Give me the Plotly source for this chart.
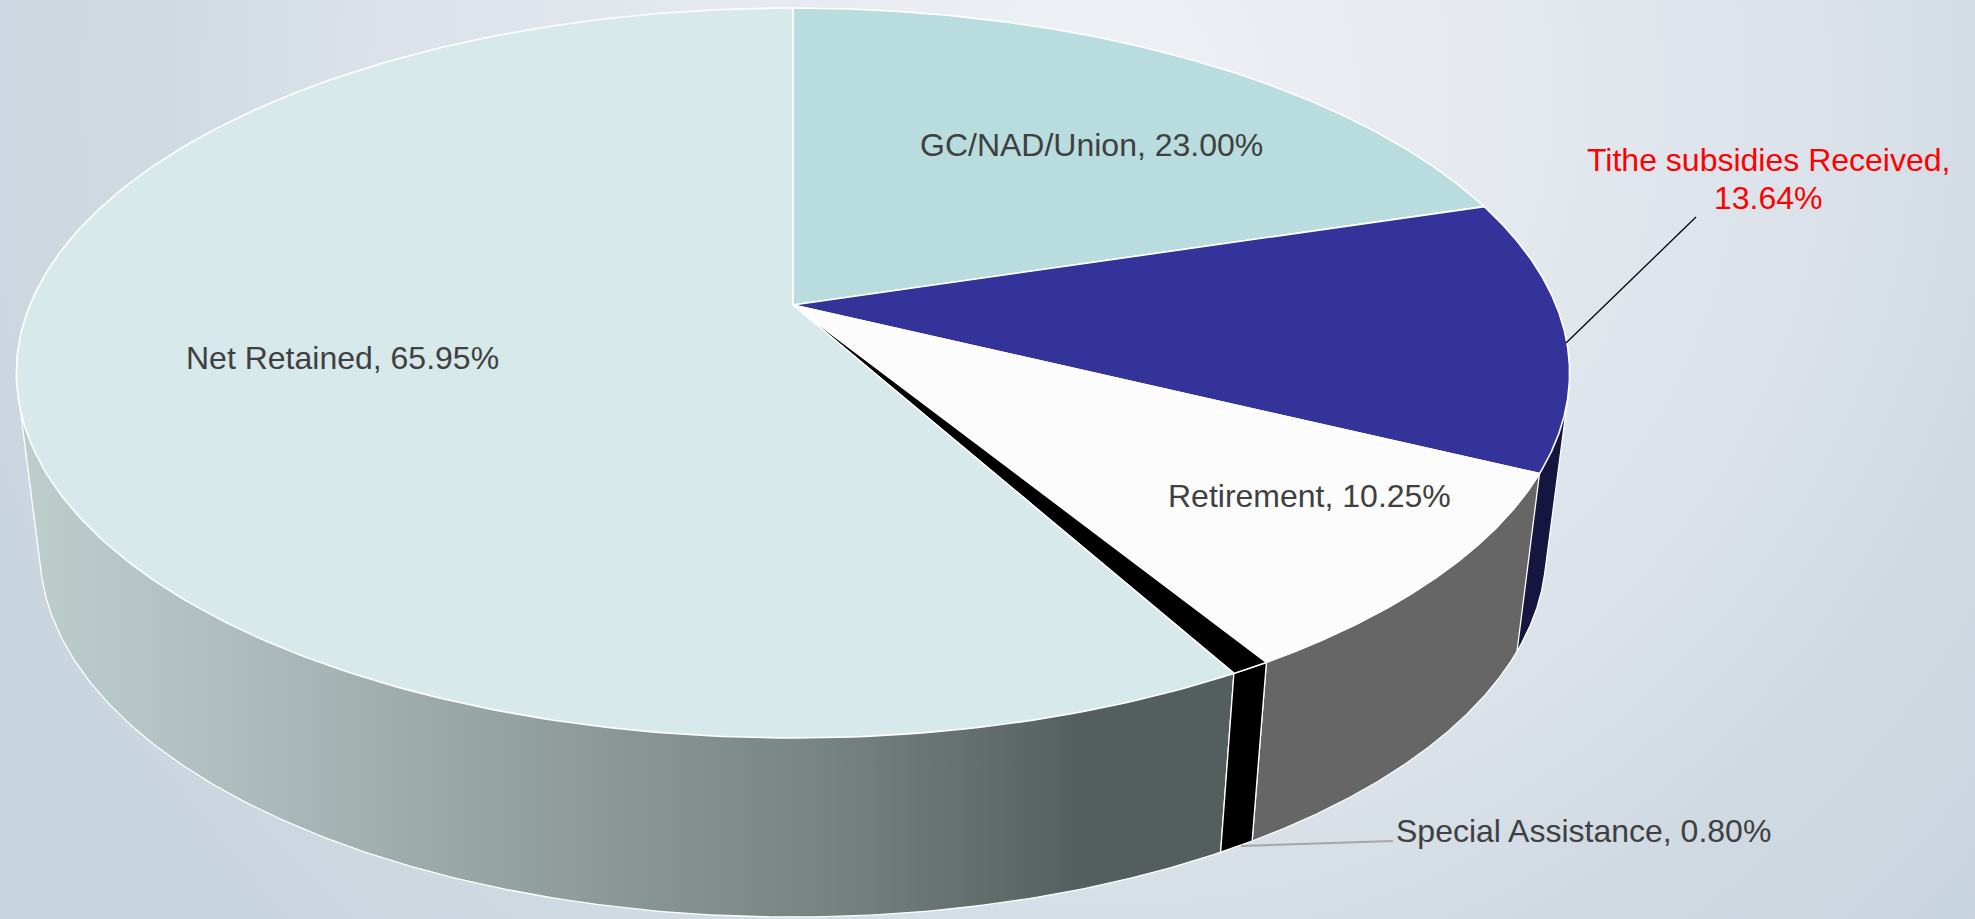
import numpy as np
import plotly.graph_objects as go

categories = ["GC/NAD/Union", "Tithe subsidies Received", "Retirement", "Special Assistance", "Net Retained"]
values = [23.00, 13.64, 10.25, 0.80, 65.95]
face_colors = ["#B9DDDE", "#333399", "#FCFCFC", "#000000", "#D7E9EB"]
side_colors = ["#8FA8A9", "#15153F", "#666666", "#000000", None]

W, H = 1975, 919
CX = 793.0
K = 0.1863
# projection of the top rim (level 0) and the bottom rim (level 1)
RIM_A = {0: 763.0, 1: 740.0}
RIM_B = {0: 352.3, 1: 354.0}
RIM_Y = {0: 305.0, 1: 482.0}
CY = RIM_Y[0]


def project(theta, level):
    sx, cy = np.sin(theta), np.cos(theta)
    w = 1 + K * cy
    return CX + RIM_A[level] * sx / w, RIM_Y[level] - RIM_B[level] * cy / w


def hull(xs, ys):
    pts = sorted(set(zip(xs.tolist(), ys.tolist())))

    def half(seq):
        out = []
        for p in seq:
            while len(out) > 1 and (out[-1][0] - out[-2][0]) * (p[1] - out[-2][1]) - \
                    (out[-1][1] - out[-2][1]) * (p[0] - out[-2][0]) <= 0:
                out.pop()
            out.append(p)
        return out

    ring = half(pts)[:-1] + half(pts[::-1])
    return np.array([p[0] for p in ring]), np.array([p[1] for p in ring])


shares = np.array(values) / sum(values)
edges = np.concatenate([[0], np.cumsum(shares)]) * 2 * np.pi

fig = go.Figure()

# background
bg_cx, bg_cy, bg_r = 1100, 90, 1250
fig.add_trace(go.Scatter(
    x=[bg_cx - bg_r, bg_cx + bg_r, bg_cx + bg_r, bg_cx - bg_r, bg_cx - bg_r],
    y=[bg_cy - bg_r, bg_cy - bg_r, bg_cy + bg_r, bg_cy + bg_r, bg_cy - bg_r],
    mode="lines", line=dict(width=0), fill="toself",
    fillgradient=dict(type="radial", colorscale=[
        [0, "#EEF1F4"], [0.3, "#E6EAF0"], [0.6, "#DAE1E9"], [0.75, "#D0DAE3"], [1, "#C8D4DE"]]),
    hoverinfo="skip", showlegend=False))

# sides: back to front; the two sides that reach the silhouette are closed by their hull
for i in [1, 2, 4, 3]:
    t0, t1 = edges[i], edges[i + 1]
    if i == 4:
        t1 = np.radians(285)
    t = np.linspace(t0, t1, 240)
    xt, yt = project(t, 0)
    xb, yb = project(t[::-1], 1)
    xs = np.concatenate([xt, xb, xt[:1]])
    ys = np.concatenate([yt, yb, yt[:1]])
    if i in (1, 4):
        xs, ys = hull(xs, ys)
    kw = dict(fillcolor=side_colors[i])
    if i == 4:
        kw = dict(fillgradient=dict(
            type="horizontal", start=30, stop=1085,
            colorscale=[[0, "#BDCDCC"], [0.2, "#AEBCBD"], [0.55, "#8B9897"],
                        [0.75, "#788482"], [1, "#545E5E"]]))
    fig.add_trace(go.Scatter(x=xs, y=ys, mode="lines", fill="toself",
                             line=dict(color="#FFFFFF", width=1.3),
                             name=categories[i], hoverinfo="name", showlegend=False, **kw))

# top faces
for i in range(len(values)):
    t = np.linspace(edges[i], edges[i + 1], 240)
    xa, ya = project(t, 0)
    xs = np.concatenate([[CX], xa, [CX]])
    ys = np.concatenate([[CY], ya, [CY]])
    fig.add_trace(go.Scatter(x=xs, y=ys, mode="lines", fill="toself", fillcolor=face_colors[i],
                             line=dict(color="#FFFFFF", width=1.6),
                             name=categories[i], hoverinfo="name", showlegend=False))

# leader lines
fig.add_trace(go.Scatter(x=[1566, 1696], y=[343, 217], mode="lines",
                         line=dict(color="#000000", width=1.3), hoverinfo="skip", showlegend=False))
fig.add_trace(go.Scatter(x=[1241, 1393], y=[846, 841], mode="lines",
                         line=dict(color="#A6A6A6", width=2), hoverinfo="skip", showlegend=False))

FONT = "Liberation Sans, Arial, sans-serif"
DARK = "#404040"


def label(x, y, text, color=DARK, anchor="center"):
    fig.add_annotation(x=x, y=y, text=text, showarrow=False, xanchor=anchor, yanchor="middle",
                       font=dict(family=FONT, size=32, color=color))


label(1091, 145, f"{categories[0]}, {values[0]:.2f}%")
label(342, 358, f"{categories[4]}, {values[4]:.2f}%")
label(1309, 496, f"{categories[2]}, {values[2]:.2f}%")
label(1394, 831, f"{categories[3]}, {values[3]:.2f}%", anchor="left")
label(1768, 160, f"{categories[1]},", color="#FF0000")
label(1768, 198, f"{values[1]:.2f}%", color="#FF0000")

fig.update_layout(
    width=W, height=H, margin=dict(l=0, r=0, t=0, b=0),
    paper_bgcolor="#D5DEE7", plot_bgcolor="rgba(0,0,0,0)",
    xaxis=dict(range=[0, W], visible=False, fixedrange=True),
    yaxis=dict(range=[H, 0], visible=False, fixedrange=True),
)

fig.write_html("out.html", config={"displayModeBar": False},
               post_script="document.body.style.margin='0';document.body.style.overflow='hidden';")
